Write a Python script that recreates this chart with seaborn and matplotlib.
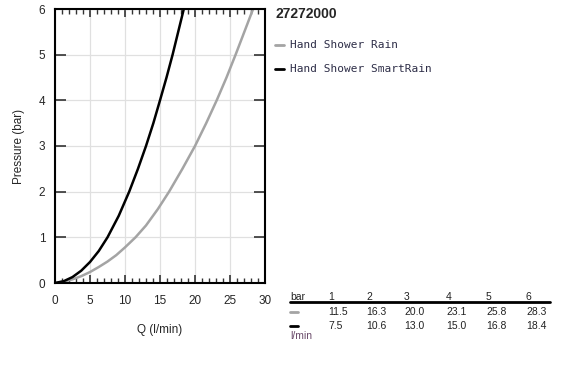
import numpy as np
import pandas as pd
import matplotlib.pyplot as plt
import seaborn as sns

# Curve readings (flow in l/min, pressure in bar)
rain_q = [0, 1.25, 2.5, 3.75, 5, 6.25, 7.5, 8.75, 10, 11.5, 13, 14.7, 16.3, 18.2, 20.0,
          21.6, 23.1, 24.5, 25.8, 27.05, 28.3]
rain_p = [0, 0.03, 0.08, 0.15, 0.24, 0.35, 0.47, 0.61, 0.78, 1, 1.26, 1.62, 2, 2.5, 3,
          3.5, 4, 4.5, 5, 5.5, 6]
smart_q = [0, 1.25, 2.5, 3.75, 5, 6.25, 7.5, 9.1, 10.6, 11.85, 13.0, 14.05, 15.0, 15.93,
           16.8, 17.6, 18.4]
smart_p = [0, 0.04, 0.13, 0.27, 0.46, 0.7, 1, 1.47, 2, 2.5, 3, 3.5, 4, 4.5, 5, 5.5, 6]

# Table values
table_bar = ["1", "2", "3", "4", "5", "6"]
table_rain = ["11.5", "16.3", "20.0", "23.1", "25.8", "28.3"]
table_smart = ["7.5", "10.6", "13.0", "15.0", "16.8", "18.4"]

series_names = ["Hand Shower Rain", "Hand Shower SmartRain"]
colors = {"Hand Shower Rain": "#a4a4a4", "Hand Shower SmartRain": "#000000"}

df = pd.concat([
    pd.DataFrame({"Q": rain_q, "P": rain_p, "series": series_names[0]}),
    pd.DataFrame({"Q": smart_q, "P": smart_p, "series": series_names[1]}),
])

sns.set_style("white")
plt.rcParams["font.family"] = ["Liberation Sans", "DejaVu Sans"]

fig = plt.figure(figsize=(5.83, 3.84), dpi=100)
ax = fig.add_axes([55 / 583, 1 - 283 / 384, 210 / 583, 274 / 384])

sns.lineplot(data=df, x="Q", y="P", hue="series", palette=colors, sort=False,
             estimator=None, linewidth=1.8, legend=False, ax=ax)
for ln in ax.lines:
    ln.set_solid_joinstyle("round")

ax.set_xlim(0, 30)
ax.set_ylim(0, 6)
ax.set_xticks(range(0, 31, 5))
ax.set_xticks(range(0, 31, 1), minor=True)
ax.set_yticks(range(0, 7))
ax.grid(True, which="major", color="#e0e0e0", linewidth=0.9)
ax.set_axisbelow(True)
ax.tick_params(axis="x", which="major", direction="in", top=True, bottom=True,
               length=6, width=1.2, color="#333333", labelsize=8.5, pad=9)
ax.tick_params(axis="x", which="minor", direction="in", top=True, bottom=True,
               length=3.5, width=1, color="#333333")
ax.tick_params(axis="y", which="major", direction="in", left=True, right=True,
               length=8, width=1.2, color="#333333", labelsize=8.5, pad=7)
for s in ax.spines.values():
    s.set_color("black")
    s.set_linewidth(1.5)
ax.set_xlabel("Q (l/min)", fontsize=8.5, labelpad=12)
ax.set_ylabel("Pressure (bar)", fontsize=8.5, labelpad=10)

# Title and legend on the right
fig.text(275 / 583, 1 - 14 / 384, "27272000", fontsize=10, fontweight="bold",
         va="center", ha="left")
txt_color = "#2e2e48"
for i, name in enumerate(series_names):
    y = 1 - (45 + 24 * i) / 384
    fig.add_artist(plt.Line2D([275 / 583, 284 / 583], [y, y], color=colors[name],
                              linewidth=2))
    fig.text(290 / 583, y, name, fontsize=8, family="DejaVu Sans Mono",
             color=txt_color, va="center", ha="left")

# Table
col_x = [328, 366, 404, 446, 486, 526]
fs = 7.5
fig.text(290 / 583, 1 - 297 / 384, "bar", fontsize=fs, va="center", color="#222222")
fig.add_artist(plt.Line2D([290 / 583, 550 / 583], [1 - 302 / 384, 1 - 302 / 384],
                          color="black", linewidth=2))
for x, b, r, s in zip(col_x, table_bar, table_rain, table_smart):
    fig.text(x / 583, 1 - 297 / 384, b, fontsize=fs, va="center", color="#222222")
    fig.text(x / 583, 1 - 312 / 384, r, fontsize=fs, va="center", color="#222222")
    fig.text(x / 583, 1 - 326 / 384, s, fontsize=fs, va="center", color="#222222")
fig.add_artist(plt.Line2D([290 / 583, 298 / 583], [1 - 312 / 384, 1 - 312 / 384],
                          color=colors[series_names[0]], linewidth=2))
fig.add_artist(plt.Line2D([290 / 583, 298 / 583], [1 - 326 / 384, 1 - 326 / 384],
                          color=colors[series_names[1]], linewidth=2))
fig.text(290 / 583, 1 - 336 / 384, "l/min", fontsize=fs, va="center", color="#6a4a6a")

fig.savefig("out.png", dpi=100)
